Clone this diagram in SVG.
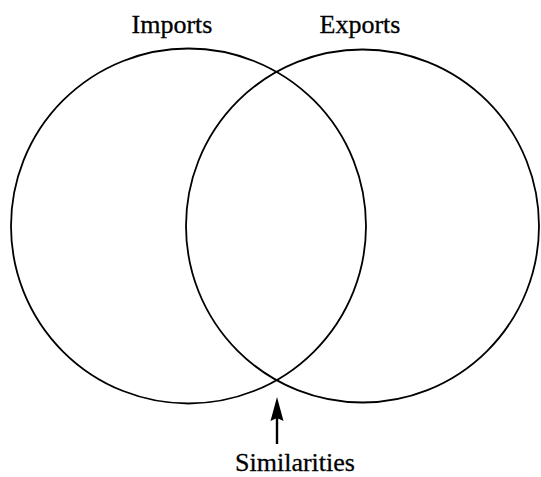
<svg xmlns="http://www.w3.org/2000/svg" width="541" height="477" viewBox="0 0 541 477">
  <style>
    .set { fill: none; stroke: #000; stroke-width: 1.8; }
    .label { font-family: "Liberation Serif", "Times New Roman", serif; font-size: 26px; fill: #000; text-anchor: middle; stroke: #000; stroke-width: 0.3; }
    .pointer { stroke: #000; stroke-width: 2.4; fill: none; }
  </style>
  <defs>
    <!-- filled arrowhead, 24 long by 13 wide, tip at the line's end plus 13 -->
    <marker id="head" markerUnits="userSpaceOnUse" markerWidth="24" markerHeight="14" refX="11" refY="7" orient="auto" viewBox="0 0 24 14">
      <path d="M0,0.5 L24,7 L0,13.5 L3,7 Z" fill="#000"/>
    </marker>
  </defs>
  <rect width="541" height="477" fill="#fff"/>

  <g id="imports">
    <circle class="set" cx="188.5" cy="226" r="177.5"/>
    <text class="label" x="172" y="33">Imports</text>
  </g>

  <g id="exports">
    <circle class="set" cx="362.5" cy="226" r="176.5"/>
    <text class="label" x="360" y="33">Exports</text>
  </g>

  <g id="similarities">
    <text class="label" x="295" y="471">Similarities</text>
  </g>

  <g id="connectors">
    <line class="pointer" x1="277" y1="444" x2="277" y2="410" marker-end="url(#head)"/>
  </g>
</svg>
